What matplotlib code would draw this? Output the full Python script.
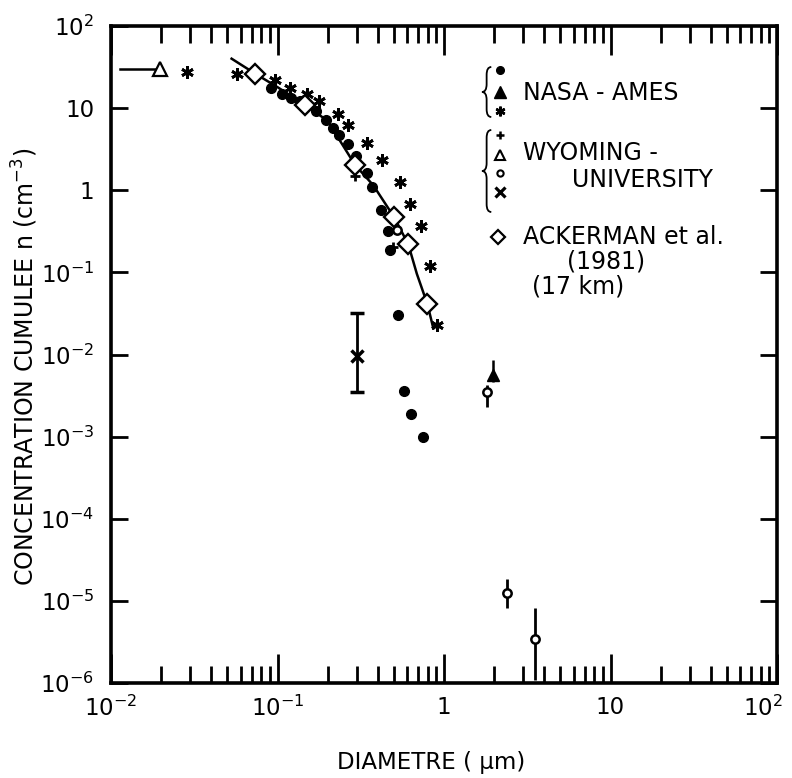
import matplotlib
matplotlib.use("Agg")
import matplotlib.pyplot as plt
import matplotlib.transforms as mtransforms
from matplotlib.path import Path
from matplotlib.patches import PathPatch
from matplotlib.ticker import FixedLocator, NullLocator

plt.rcParams['font.family'] = ['DejaVu Sans']

# NASA-Ames, filled circles
dot_d = [0.092, 0.106, 0.121, 0.136, 0.170, 0.196, 0.214, 0.235, 0.266, 0.296,
         0.345, 0.372, 0.419, 0.464, 0.472, 0.532, 0.575, 0.634, 0.751]
dot_n = [17.7, 14.8, 13.4, 12.2, 9.1, 7.2, 5.8, 4.7, 3.7, 2.6,
         1.63, 1.10, 0.58, 0.32, 0.187, 0.030, 0.0036, 0.0019, 0.0010]

# NASA-Ames, stars
star_d = [0.0287, 0.057, 0.0965, 0.119, 0.150, 0.178, 0.232, 0.266, 0.343,
          0.424, 0.546, 0.626, 0.73, 0.82, 0.91]
star_n = [27.8, 25.8, 22.0, 17.7, 15.0, 12.2, 8.4, 6.3, 3.8,
          2.33, 1.27, 0.68, 0.37, 0.119, 0.0228]

# NASA-Ames, filled triangle
ftri_d = [1.98]
ftri_n = [0.0056]
ftri_lo = [0.0046]
ftri_hi = [0.0085]

# Wyoming University
plus_d = [0.292, 0.496]
plus_n = [1.49, 0.205]

otri_d = [0.0197]
otri_n = [30.0]
otri_from = 0.0113

circ_d = [0.52, 1.82, 2.40, 3.52]
circ_n = [0.33, 0.0035, 1.26e-5, 3.4e-6]
circ_lo = [0.33, 0.0023, 8.1e-6, 1.1e-6]
circ_hi = [0.33, 0.0042, 1.87e-5, 8.1e-6]

x_d = [0.30]
x_n = [0.0095]
x_lo = [0.0035]
x_hi = [0.0316]

# Ackerman et al. (1981), 17 km
ack_d = [0.073, 0.146, 0.292, 0.50, 0.61, 0.795]
ack_n = [25.9, 11.0, 2.04, 0.475, 0.22, 0.041]
curve_d = [0.053, 0.073, 0.1, 0.146, 0.2, 0.292, 0.376, 0.5, 0.61, 0.687, 0.795, 0.863]
curve_n = [40, 26.5, 18.0, 11.0, 7.0, 2.04, 1.15, 0.475, 0.22, 0.096, 0.041, 0.0208]

xticks = [1e-2, 1e-1, 1, 10, 1e2]
xlabels = ['$10^{-2}$', '$10^{-1}$', '1', '10', '$10^{2}$']
yticks = [1e-6, 1e-5, 1e-4, 1e-3, 1e-2, 1e-1, 1, 10, 1e2]
ylabels = ['$10^{-6}$', '$10^{-5}$', '$10^{-4}$', '$10^{-3}$', '$10^{-2}$',
           '$10^{-1}$', '1', '10', '$10^{2}$']

W, H = 792, 778
fig = plt.figure(figsize=(W / 100, H / 100), dpi=100)
ax = fig.add_axes([111 / W, (H - 683) / H, 666 / W, 657 / H])
ax.set_xscale('log')
ax.set_yscale('log')
ax.set_xlim(1e-2, 1e2)
ax.set_ylim(1e-6, 1e2)

for s in ax.spines.values():
    s.set_linewidth(2.6)

ax.set_xticks(xticks, xlabels)
ax.set_yticks(yticks, ylabels)
ax.xaxis.set_minor_locator(FixedLocator([m * 10.0 ** e for e in range(-2, 2) for m in range(2, 10)]))
ax.yaxis.set_minor_locator(NullLocator())
ax.tick_params(which='both', direction='in', top=True, right=True, width=2.0, labelsize=16.5)
ax.tick_params(axis='x', which='major', length=21, pad=9)
ax.tick_params(axis='x', which='minor', length=12)
ax.tick_params(axis='y', which='major', length=12, pad=12)

# keep the last x label inside the picture
last = ax.get_xticklabels()[-1]
last.set_transform(last.get_transform() + mtransforms.ScaledTranslation(-10 / 72, 0, fig.dpi_scale_trans))

# Ackerman curve and points
ax.plot(curve_d, curve_n, color='black', lw=1.8, zorder=2)

ax.plot(dot_d, dot_n, 'o', color='black', ms=7, zorder=3)
ax.plot(star_d, star_n, linestyle='none', marker=(6, 2, 0), color='black', ms=9, mew=2, zorder=3)
ax.plot(plus_d, plus_n, '+', color='black', ms=7, mew=2, zorder=3)

ax.plot([otri_from, otri_d[0]], [otri_n[0], otri_n[0]], color='black', lw=1.8)
ax.plot(otri_d, otri_n, '^', mfc='white', mec='black', ms=10, mew=1.6, zorder=4)

ax.errorbar(ftri_d, ftri_n, yerr=[[n - l for n, l in zip(ftri_n, ftri_lo)],
                                   [h - n for n, h in zip(ftri_n, ftri_hi)]],
            fmt='^', color='black', ms=9, elinewidth=1.8, capsize=0, zorder=4)
ax.errorbar(circ_d, circ_n, yerr=[[n - l for n, l in zip(circ_n, circ_lo)],
                                   [h - n for n, h in zip(circ_n, circ_hi)]],
            fmt='o', mfc='white', mec='black', ecolor='black', ms=6, mew=1.8,
            elinewidth=2, capsize=0, zorder=4)
ax.errorbar(x_d, x_n, yerr=[[n - l for n, l in zip(x_n, x_lo)],
                             [h - n for n, h in zip(x_n, x_hi)]],
            fmt='x', color='black', ms=9, mew=2.5, elinewidth=2, capsize=5, capthick=2, zorder=4)

ax.plot(ack_d, ack_n, 'D', mfc='white', mec='black', ms=10, mew=1.7, zorder=5)


# legend drawn by hand, in axes fractions
def brace(x, y0, y1, w):
    ym = (y0 + y1) / 2
    d = 0.012
    xm = x - w / 2
    verts = [(x, y1), (xm, y1), (xm, y1 - d), (xm, ym + d), (xm, ym), (x - w, ym),
             (xm, ym), (xm, ym - d), (xm, y0 + d), (xm, y0), (x, y0)]
    codes = [Path.MOVETO, Path.CURVE3, Path.CURVE3, Path.LINETO, Path.CURVE3, Path.CURVE3,
             Path.CURVE3, Path.CURVE3, Path.LINETO, Path.CURVE3, Path.CURVE3]
    ax.add_patch(PathPatch(Path(verts, codes), fill=False, lw=1.3, color='black',
                           transform=ax.transAxes))


brace(0.571, 0.8615, 0.9376, 0.014)
brace(0.571, 0.7169, 0.8417, 0.014)

mx = 0.584
kw = dict(transform=ax.transAxes, color='black', linestyle='none', clip_on=False)
ax.plot([mx], [0.933], 'o', ms=5.5, **kw)
ax.plot([mx], [0.900], '^', ms=8, **kw)
ax.plot([mx], [0.870], marker=(6, 2, 0), ms=7, mew=1.8, **kw)
ax.plot([mx], [0.834], '+', ms=6, mew=1.8, **kw)
ax.plot([mx], [0.804], '^', ms=7, mfc='white', mew=1.5, **kw)
ax.plot([mx], [0.776], 'o', ms=4.5, mfc='white', mew=1.5, **kw)
ax.plot([mx], [0.748], 'x', ms=7, mew=2.3, **kw)
ax.plot([0.581], [0.679], 'D', ms=7, mfc='white', mew=1.6, **kw)

tkw = dict(transform=ax.transAxes, fontsize=17, va='center', ha='left')
ax.text(0.619, 0.898, 'NASA - AMES', **tkw)
ax.text(0.619, 0.807, 'WYOMING -', **tkw)
ax.text(0.692, 0.766, 'UNIVERSITY', **tkw)
ax.text(0.619, 0.679, 'ACKERMAN et al.', **tkw)
ax.text(0.685, 0.641, '(1981)', **tkw)
ax.text(0.632, 0.603, '(17 km)', **tkw)

ax.set_xlabel('DIAMETRE ( µm)', fontsize=16.5)
ax.xaxis.set_label_coords(0.48, -0.103)
ax.set_ylabel('CONCENTRATION CUMULEE n (cm$^{-3}$)', fontsize=17)
ax.yaxis.set_label_coords(-0.106, 0.481)

fig.savefig('out.png', dpi=100, facecolor='white')
